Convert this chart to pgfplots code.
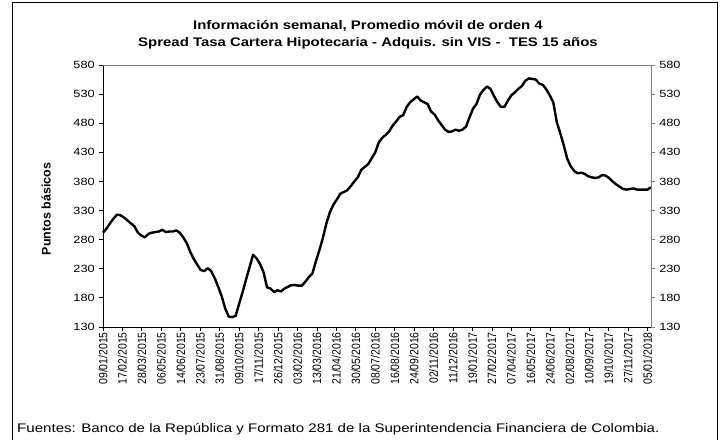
\documentclass[border=0pt]{standalone}
\usepackage{fontspec}
\setmainfont{Liberation Sans}
\usepackage{pgfplots}
\pgfplotsset{compat=1.18}
\usepackage{pgfplotstable}
\pgfplotstableread{
d v
0 292
7 299
14 308
21 316
28 323
35 322
42 318
49 313
56 308
63 303
70 292
77 287
84 284
91 290
98 292
105 293
112 294
119 297
126 293
133 294
140 294
147 296
154 292
161 284
168 274
175 259
182 247
189 237
196 228
203 226
210 231
217 226
224 214
231 199
238 183
245 162
252 148
259 147
266 149
273 170
280 190
287 212
294 233
301 254
308 248
315 238
322 224
329 198
336 196
343 190
350 193
357 191
364 196
371 199
378 202
385 202
392 201
399 201
406 208
413 216
420 222
427 243
434 262
441 283
448 308
455 327
462 340
469 349
476 359
483 362
490 365
497 372
504 380
511 387
518 400
525 405
532 410
539 420
546 430
553 447
560 455
567 460
574 466
581 476
588 483
595 491
602 494
609 508
616 516
623 521
630 526
637 519
644 516
651 513
658 500
665 495
672 485
679 477
686 469
693 465
700 466
707 469
714 467
721 469
728 474
735 490
742 505
749 513
756 529
763 537
770 543
777 539
784 527
791 516
798 508
805 508
812 519
819 528
826 533
833 539
840 544
847 553
854 557
861 556
868 555
875 548
882 546
889 538
896 528
903 516
910 482
917 463
924 442
931 419
938 406
945 398
952 394
959 395
966 393
973 389
980 387
987 386
994 387
1001 391
1008 390
1015 386
1022 380
1029 375
1036 371
1043 367
1050 366
1057 367
1064 368
1071 366
1078 366
1085 366
1092 366
1099 370
}\spread
\begin{document}
\begin{tikzpicture}
\useasboundingbox (0,0) rectangle (721bp,440bp);
\draw[line width=1bp] (12bp,-2bp) -- (12bp,437bp) -- (717bp,437bp) -- (717bp,-2bp);
\begin{axis}[
  at={(103bp,113bp)}, anchor=south west, scale only axis,
  width=548bp, height=262bp,
  xmin=0, xmax=1099, ymin=130, ymax=580,
  axis x line*=bottom, axis y line*=left,
  axis line style={black, line width=0.9bp, -},
  tick align=outside, major tick length=4bp,
  tick style={black, line width=0.8bp},
  ytick={130,180,...,580},
  xtick={0,39,...,1092},
  xticklabels={09/01/2015,17/02/2015,28/03/2015,06/05/2015,14/06/2015,23/07/2015,31/08/2015,09/10/2015,17/11/2015,26/12/2015,03/02/2016,13/03/2016,21/04/2016,30/05/2016,08/07/2016,16/08/2016,24/09/2016,02/11/2016,11/12/2016,19/01/2017,27/02/2017,07/04/2017,16/05/2017,24/06/2017,02/08/2017,10/09/2017,19/10/2017,27/11/2017,05/01/2018},
  x tick label style={rotate=90, yscale=1.15, anchor=east, font=\fontsize{10.5}{12}\selectfont, inner sep=1bp},
  y tick label style={font=\fontsize{10.5}{12}\selectfont, xscale=1.22},
  /pgf/number format/assume math mode=true,
  clip=false,
]
\addplot[black, line width=2.4bp, line join=round] table[x=d, y=v] {\spread};
\end{axis}
\begin{axis}[
  at={(103bp,113bp)}, anchor=south west, scale only axis,
  width=548bp, height=262bp,
  xmin=0, xmax=1099, ymin=130, ymax=580,
  axis x line*=top, axis y line*=right,
  axis line style={gray, line width=0.9bp, -},
  tick align=outside, major tick length=4bp,
  tick style={gray, line width=0.8bp},
  xtick=\empty,
  ytick={130,180,...,580},
  y tick label style={font=\fontsize{10.5}{12}\selectfont, xscale=1.22},
  /pgf/number format/assume math mode=true,
]
\addplot[draw=none] coordinates {(0,130)};
\end{axis}
\node[anchor=base, font=\fontsize{12.5}{14}\bfseries\selectfont, xscale=1.2] at (368bp,410bp) {Información semanal, Promedio móvil de orden 4};
\node[anchor=base, font=\fontsize{12.5}{14}\bfseries\selectfont, xscale=1.2] at (368bp,393.5bp) {Spread Tasa Cartera Hipotecaria - Adquis. sin VIS -\ \ TES 15 años};
\node[rotate=90, font=\fontsize{12.5}{14}\bfseries\selectfont] at (46bp,231bp) {Puntos básicos};
\node[anchor=base west, font=\fontsize{12.5}{14}\selectfont, inner sep=0pt, xscale=1.21] at (17bp,7.7bp) {Fuentes: Banco de la República y Formato 281 de la Superintendencia Financiera de Colombia.};
\end{tikzpicture}
\end{document}
